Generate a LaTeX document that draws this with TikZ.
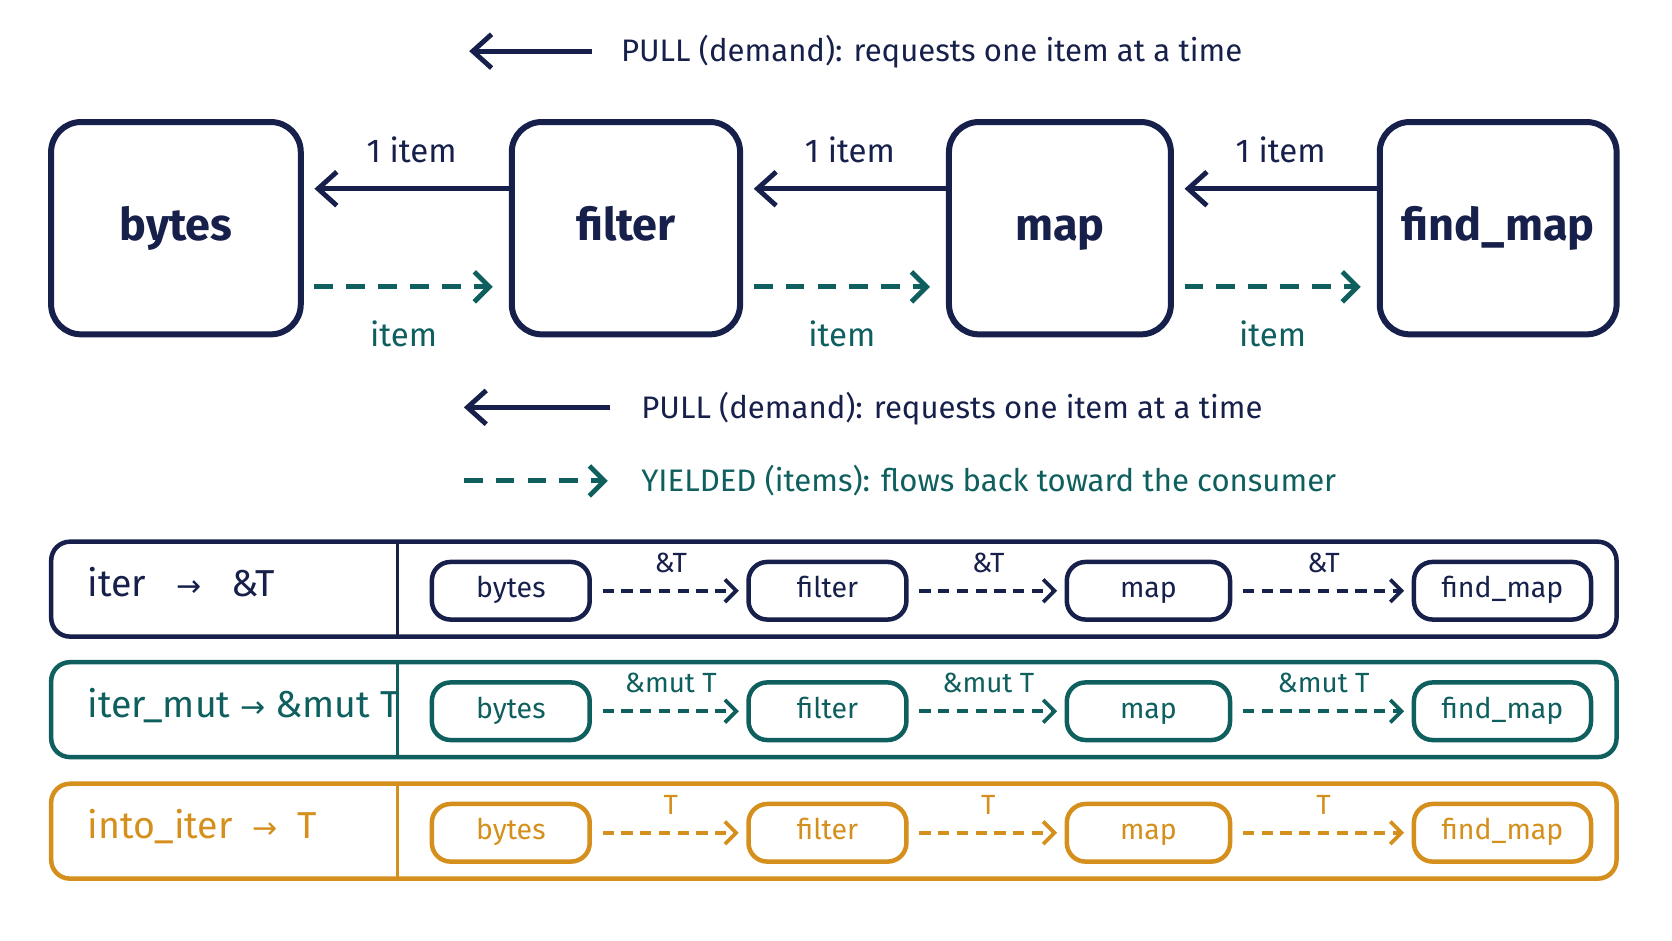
\documentclass[tikz,border=0pt]{standalone}
\usepackage{fontspec}
\setmainfont{Fira Sans}
\newfontfamily\arrfont{DejaVu Sans}
\usetikzlibrary{arrows.meta}
\definecolor{navy}{HTML}{16204A}
\definecolor{teal}{HTML}{0F5F5F}
\definecolor{gold}{HTML}{D58F1C}
\newcommand{\rar}{{\arrfont\fontsize{8}{9}\selectfont →}}
\tikzset{
 big/.style={draw=navy,line width=1.6pt,rounded corners=8pt,text=navy,inner sep=0pt,minimum height=1.99cm,text height=9pt,text depth=2.5pt,font=\fontsize{12}{14}\selectfont\bfseries},
 pull/.style={navy,line width=1.3pt,-{Straight Barb[length=5pt,width=9pt]}},
 yld/.style={teal,line width=1.3pt,dash pattern=on 5pt off 3.5pt,-{Straight Barb[length=4pt,width=8pt]}},
 lbl/.style={font=\fontsize{8.3}{10}\selectfont},
 rowb/.style={draw=#1,line width=1.2pt,rounded corners=5pt},
 sm/.style={draw=#1,text=#1,line width=1.2pt,rounded corners=5pt,inner sep=0pt,minimum height=0.54cm,text height=5.5pt,text depth=1.8pt,font=\fontsize{7.6}{9}\selectfont},
 sarr/.style={#1,line width=1pt,dash pattern=on 3pt off 2pt,-{Straight Barb[length=3pt,width=6pt]}},
 slbl/.style={text=#1,font=\fontsize{7.4}{9}\selectfont},
 rlbl/.style={text=#1,anchor=west,text height=7pt,text depth=2pt,font=\fontsize{10}{12}\selectfont},
}
\begin{document}
\begin{tikzpicture}[x=0.01cm,y=-0.01cm]
\useasboundingbox (0,0) rectangle (1568,882);
% top legend
\coordinate (l1a) at (555,48); \coordinate (l1b) at (440,48);
\draw[pull] (l1a) -- (l1b);
\node[lbl,navy,anchor=west] (l1t) at (570,48) {PULL (demand): requests one item at a time};
% big boxes
\node[big,minimum width=2.34cm] (B1) at (165,214) {bytes};
\node[big,minimum width=2.14cm] (B2) at (587,214) {filter};
\node[big,minimum width=2.08cm] (B3) at (994,214) {map};
\node[big,minimum width=2.22cm] (B4) at (1405,214) {find\_map};
\foreach \a/\b in {B1/B2,B2/B3,B3/B4}{
  \draw[pull] (\b.west|-0,177) -- ([xshift=0.1cm]\a.east|-0,177)
    node[midway,above=3pt,navy,font=\fontsize{8.8}{10}\selectfont]{1 item};
  \draw[yld] ([xshift=0.1cm]\a.east|-0,269) -- ([xshift=-0.15cm]\b.west|-0,269)
    node[midway,below=5pt,teal,font=\fontsize{8.8}{10}\selectfont]{item};
}
% legend 2
\coordinate (l2a) at (572,382); \coordinate (l2b) at (435,382);
\draw[pull] (l2a) -- (l2b);
\node[lbl,navy,anchor=west] (l2t) at (589,383) {PULL (demand): requests one item at a time};
\coordinate (l3a) at (435,451); \coordinate (l3b) at (570,451);
\draw[yld] (l3a) -- (l3b);
\node[lbl,teal,anchor=west] (l3t) at (589,451) {YIELDED (items): flows back toward the consumer};
% rows
\foreach \y/\c/\lab/\t [count=\i] in {508/navy/{iter \ \ \rar\ \ \ \&T}/\&T,621/teal/{iter\_mut \rar\ \&mut T}/\&mut T,735/gold/{into\_iter \ \rar\ \ T}/T}{
  \draw[rowb=\c] (48,\y) rectangle (1516,\y+89);
  \draw[\c,line width=0.9pt] (373,\y) -- (373,\y+89);
  \node[rlbl=\c] (r\i) at (70,\y+43) {\lab};
  \node[sm=\c,minimum width=1.48cm] (s\i a) at (479,\y+46) {bytes};
  \node[sm=\c,minimum width=1.48cm] (s\i b) at (776,\y+46) {filter};
  \node[sm=\c,minimum width=1.53cm] (s\i c) at (1077,\y+46) {map};
  \node[sm=\c,minimum width=1.66cm] (s\i d) at (1409,\y+46) {find\_map};
  \foreach \p/\q in {a/b,b/c,c/d}{
    \draw[sarr=\c] ([xshift=0.1cm]s\i\p.east) -- ([xshift=-0.07cm]s\i\q.west)
      node[midway,above=1pt,slbl=\c]{\t};
  }
}
\end{tikzpicture}
\end{document}
